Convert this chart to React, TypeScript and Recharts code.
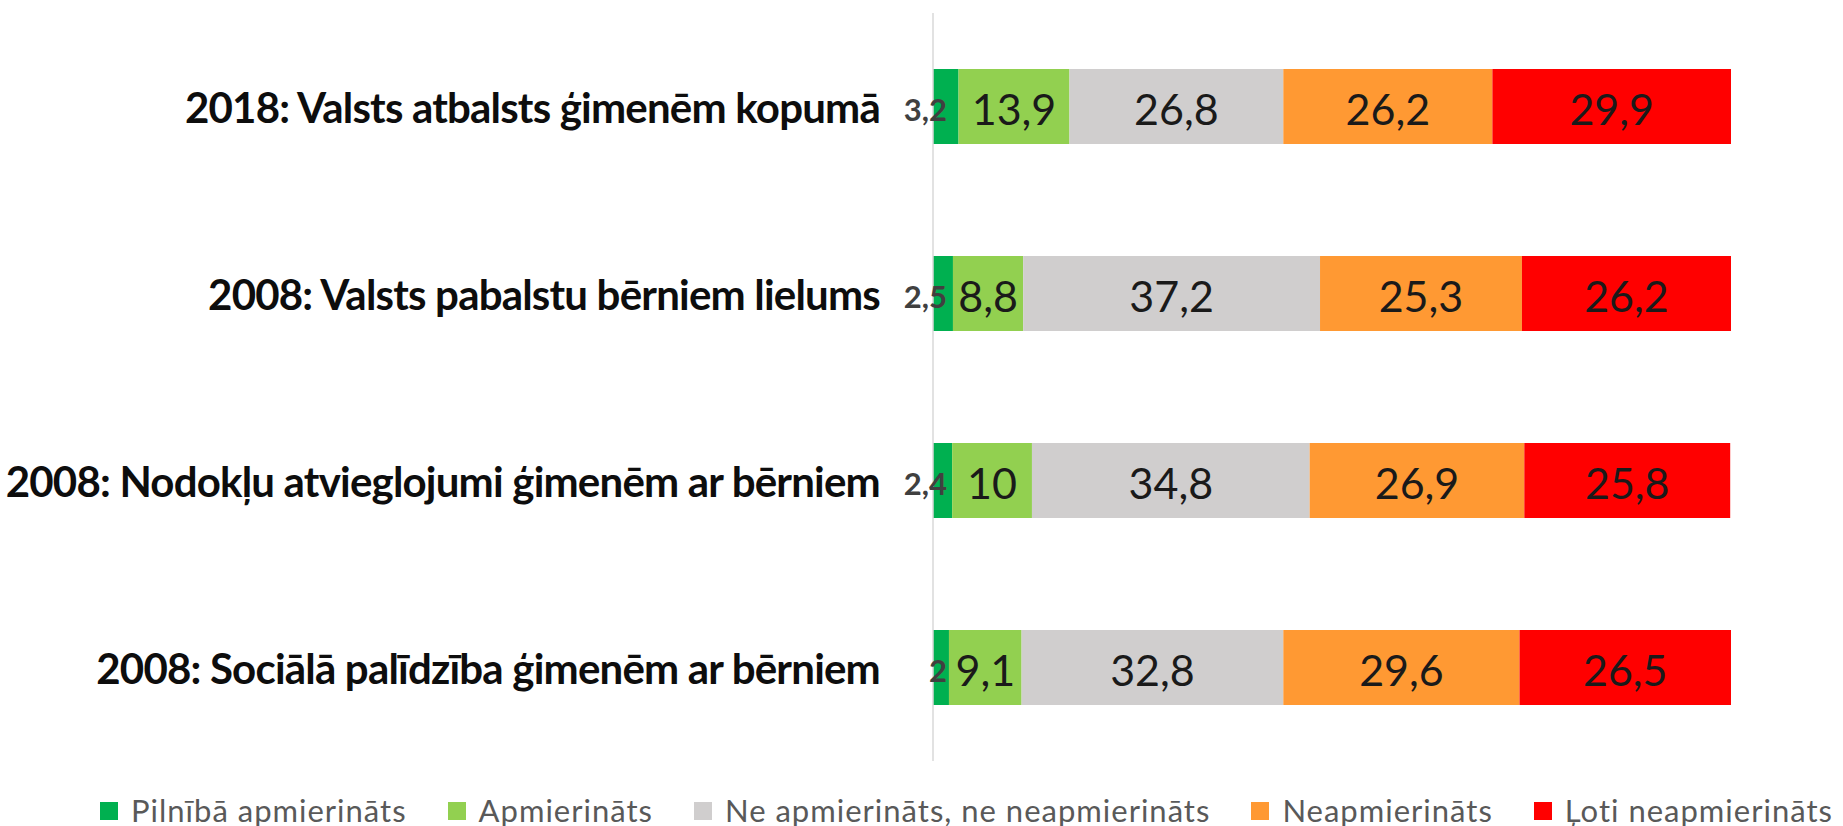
import React from "react";
import {
  BarChart,
  Bar,
  XAxis,
  YAxis,
  Legend,
  LabelList,
} from "recharts";

const categories = [
  "2018: Valsts atbalsts ģimenēm kopumā",
  "2008: Valsts pabalstu bērniem lielums",
  "2008: Nodokļu atvieglojumi ģimenēm ar bērniem",
  "2008: Sociālā palīdzība ģimenēm ar bērniem",
];

const pilnibaApmierinats = [3.2, 2.5, 2.4, 2];
const apmierinats = [13.9, 8.8, 10, 9.1];
const neNe = [26.8, 37.2, 34.8, 32.8];
const neapmierinats = [26.2, 25.3, 26.9, 29.6];
const lotiNeapmierinats = [29.9, 26.2, 25.8, 26.5];

const seriesNames = [
  "Pilnībā apmierināts",
  "Apmierināts",
  "Ne apmierināts, ne neapmierināts",
  "Neapmierināts",
  "Ļoti neapmierināts",
];

const colors = ["#00b050", "#92d050", "#d0cece", "#ff9933", "#ff0000"];

const data = categories.map((name, i) => ({
  name,
  s0: pilnibaApmierinats[i],
  s1: apmierinats[i],
  s2: neNe[i],
  s3: neapmierinats[i],
  s4: lotiNeapmierinats[i],
}));

const FONT = "Lato, 'Open Sans', sans-serif";
const fmt = (v: number) => String(v).replace(".", ",");

// category names, right aligned against the axis line
const CategoryTick = ({ x, y, payload }: any) => (
  <text
    x={x - 45}
    y={y}
    textAnchor="end"
    dominantBaseline="central"
    fontFamily={FONT}
    fontWeight={700}
    fontSize={42}
    letterSpacing={-0.8}
    fill="#0d0d0d"
  >
    {payload.value}
  </text>
);

// values inside the segments
const InsideLabel = ({ x, y, width, height, value }: any) => (
  <text
    x={x + width / 2}
    y={y + height / 2 + 2}
    textAnchor="middle"
    dominantBaseline="central"
    fontFamily={FONT}
    fontSize={43}
    fill="#1a1a1a"
  >
    {fmt(value)}
  </text>
);

// the thin first segment gets its label pushed to the left
const SmallLabel = ({ x, y, width, height, value }: any) => (
  <text
    x={x + 14}
    y={y + height / 2 + 2}
    textAnchor="end"
    dominantBaseline="central"
    fontFamily={FONT}
    fontWeight={700}
    fontSize={31}
    fill="#404040"
  >
    {fmt(value)}
  </text>
);

const LegendContent = () => (
  <div
    style={{
      display: "flex",
      whiteSpace: "nowrap",
      alignItems: "center",
      height: 31,
    }}
  >
    {seriesNames.map((n, i) => (
      <div
        key={n}
        style={{ display: "flex", alignItems: "center", marginRight: 41 }}
      >
        <span
          style={{
            width: 18,
            height: 18,
            background: colors[i],
            display: "inline-block",
            marginRight: 13,
          }}
        />
        <span
          style={{
            fontFamily: FONT,
            fontSize: 31,
            lineHeight: "31px",
            letterSpacing: 1,
            color: "#595959",
          }}
        >
          {n}
        </span>
      </div>
    ))}
  </div>
);

export default function App() {
  return (
    <div style={{ position: "absolute", left: 0, top: 0, background: "#fff" }}>
      <BarChart
        width={1843}
        height={826}
        data={data}
        layout="vertical"
        margin={{ top: 13, right: 112, left: 0, bottom: 65 }}
        barCategoryGap="30%"
      >
        <XAxis type="number" domain={[0, 100]} hide />
        <YAxis
          type="category"
          dataKey="name"
          width={933}
          axisLine={{ stroke: "#d9d9d9", strokeWidth: 1.5 }}
          tickLine={false}
          tick={<CategoryTick />}
        />
        <Legend
          layout="horizontal"
          verticalAlign="middle"
          align="center"
          content={<LegendContent />}
          wrapperStyle={{ top: 795, left: 100, width: "auto", height: 31 }}
        />
        {["s0", "s1", "s2", "s3", "s4"].map((k, i) => (
          <Bar
            key={k}
            dataKey={k}
            name={seriesNames[i]}
            stackId="a"
            fill={colors[i]}
            isAnimationActive={false}
          >
            <LabelList
              dataKey={k}
              content={i === 0 ? <SmallLabel /> : <InsideLabel />}
            />
          </Bar>
        ))}
      </BarChart>
    </div>
  );
}
